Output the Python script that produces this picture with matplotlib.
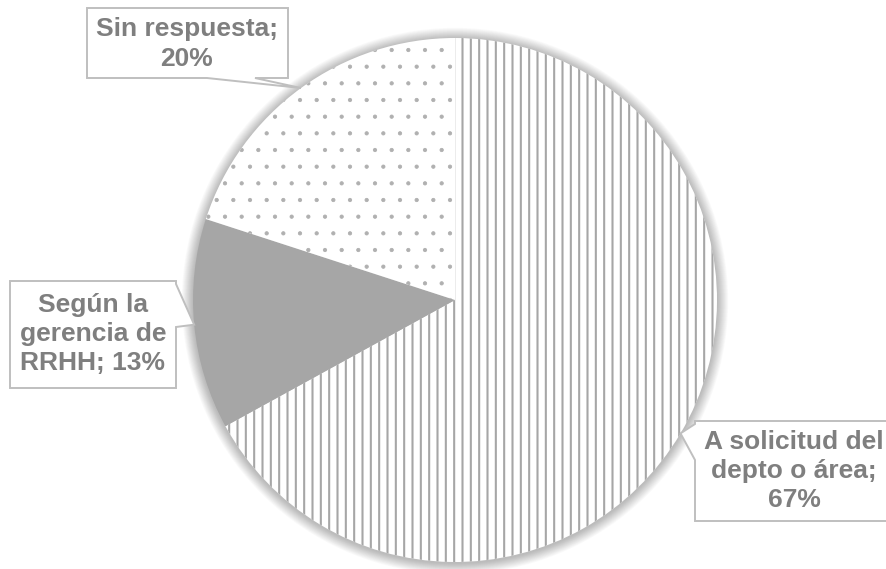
import numpy as np
import matplotlib.pyplot as plt
from matplotlib.patches import Circle, Polygon

plt.rcParams['font.family'] = ['Liberation Sans', 'DejaVu Sans']
plt.rcParams['hatch.linewidth'] = 1.5

labels = ["A solicitud del\ndepto o área;\n67%",
          "Según la\ngerencia de\nRRHH; 13%",
          "Sin respuesta;\n20%"]
values = [67, 13, 20]
colors = ["white", "#a6a6a6", "white"]
hatches = ["||", "", "."]
hatch_colors = ["#a6a6a6", "#a6a6a6", "#b0b0b0"]
hatch_widths = [1.5, 1.5, 0.6]

W, H = 887, 569
cx, cy, R = 455, 300, 262

fig = plt.figure(figsize=(8.87, 5.69), dpi=100)
ax = fig.add_axes([0, 0, 1, 1])

# soft shadow around the pie
for k in range(14, 0, -1):
    ax.add_patch(Circle((cx, H - cy - 1), R + k * 0.8, color="black",
                        alpha=0.02, lw=0, zorder=0))

wedges, _ = ax.pie(values, center=(cx, H - cy), radius=R, startangle=90,
                   counterclock=False, frame=True)
for w, fc, h, hc, hw in zip(wedges, colors, hatches, hatch_colors, hatch_widths):
    w.set_facecolor(fc)
    w.set_hatch(h)
    w.set_edgecolor(hc)
    w.set_linewidth(0)
    w.set_zorder(1)
    if hasattr(w, "set_hatch_linewidth"):
        w.set_hatch_linewidth(hw)
ax.set_xlim(0, W)
ax.set_ylim(0, H)
ax.set_aspect("equal")
ax.axis("off")

# callout boxes (pixel coords, y down): box, pointer base, text centre
boxes = [
    dict(box=(695, 421, 892, 521), side="left", base=(424, 460), text=(794, 471)),
    dict(box=(10, 281, 176, 388), side="right", base=(284, 327), text=(93, 334)),
    dict(box=(87, 8, 288, 78), side="bottom", base=(207, 255), text=(187, 44)),
]

for w, lab, b in zip(wedges, labels, boxes):
    mid = np.deg2rad((w.theta1 + w.theta2) / 2)
    tx = cx + R * np.cos(mid)
    ty = cy - R * np.sin(mid)
    x0, y0, x1, y1 = b["box"]
    b0, b1 = b["base"]
    if b["side"] == "left":
        pts = [(x0, y0), (x1, y0), (x1, y1), (x0, y1), (x0, b1), (tx, ty), (x0, b0)]
    elif b["side"] == "right":
        pts = [(x0, y0), (x1, y0), (x1, b0), (tx, ty), (x1, b1), (x1, y1), (x0, y1)]
    else:
        pts = [(x0, y0), (x1, y0), (x1, y1), (b1, y1), (tx, ty), (b0, y1), (x0, y1)]
    pts = [(x, H - y) for x, y in pts]
    ax.add_patch(Polygon(pts, closed=True, facecolor="white",
                         edgecolor="#bfbfbf", lw=1.4, zorder=3))
    ax.text(b["text"][0], H - b["text"][1], lab, ha="center", va="center",
            fontsize=19, fontweight="bold", color="#7f7f7f",
            linespacing=1.27, zorder=4)

fig.savefig("out.png", dpi=100)
